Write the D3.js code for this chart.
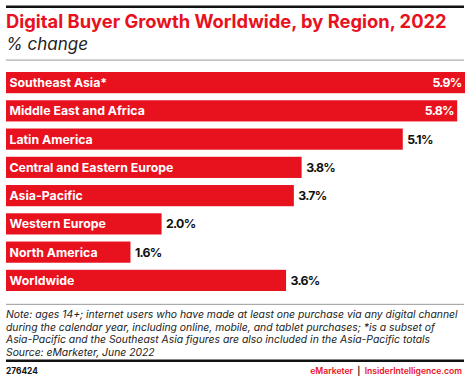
<!DOCTYPE html>
<html><head><meta charset="utf-8">
<script src="https://cdn.jsdelivr.net/npm/d3@7"></script>
<style>
html,body{margin:0;padding:0;background:#fff;}
svg{display:block;font-family:Inter, "Open Sans", sans-serif;}
</style></head>
<body>
<svg id="c" width="470" height="382"></svg>
<script>
const categories = ["Southeast Asia*","Middle East and Africa","Latin America","Central and Eastern Europe","Asia-Pacific","Western Europe","North America","Worldwide"];
const values = [5.9,5.8,5.1,3.8,3.7,2.0,1.6,3.6];
const valueLabels = ["5.9%","5.8%","5.1%","3.8%","3.7%","2.0%","1.6%","3.6%"];
const titleText = "Digital Buyer Growth Worldwide, by Region, 2022";
const subtitleText = "% change";
const noteLines = ["Note: ages 14+; internet users who have made at least one purchase via any digital channel",
"during the calendar year, including online, mobile, and tablet purchases; *is a subset of",
"Asia-Pacific and the Southeast Asia figures are also included in the Asia-Pacific totals",
"Source: eMarketer, June 2022"];
const chartId = "276424";

const red = "#e8111e";
const svg = d3.select("#c");

function fit(sel, target, base) {
  const node = sel.node();
  sel.attr("font-size", base);
  const w = node.getComputedTextLength();
  const fs = base * target / w;
  sel.attr("font-size", fs);
  return fs;
}
function fitSpacing(sel, target) {
  const node = sel.node();
  const w = node.getComputedTextLength();
  const n = sel.text().length;
  return (target - w) / n;
}

svg.append("rect").attr("x",6).attr("y",5.5).attr("width",458).attr("height",2.5).attr("fill","#111");
const title = svg.append("text").attr("x",6).attr("y",27.5).attr("fill",red).attr("font-weight",700).text(titleText);
fit(title, 441, 17);
const sub = svg.append("text").attr("x",6).attr("y",50).attr("fill","#222").attr("font-style","italic").text(subtitleText);
fit(sub, 82, 16);
svg.append("rect").attr("x",6).attr("y",59.5).attr("width",458).attr("height",1.2).attr("fill","#aaa");

const x = d3.scaleLinear().domain([0,5.9]).range([6,465]);
const y = d3.scaleBand().domain(categories).range([72,291]).paddingInner(0.25).paddingOuter(0);

const g = svg.append("g");
g.selectAll("rect.bar").data(values).join("rect").attr("class","bar")
  .attr("x",x(0)).attr("y",(d,i)=>y(categories[i]))
  .attr("width",d=>x(d)-x(0)).attr("height",y.bandwidth()).attr("fill",red);
const cats = g.selectAll("text.cat").data(categories).join("text").attr("class","cat")
  .attr("x",9.5).attr("y",d=>y(d)+y.bandwidth()/2).attr("dy","0.36em")
  .attr("fill","#fff").attr("font-weight",700).text(d=>d);
const catFs = fit(cats.filter((d,i)=>i===3), 164, 13);
cats.attr("font-size",catFs);
const vals = g.selectAll("text.val").data(values).join("text").attr("class","val")
  .attr("x",(d,i)=> i<2 ? x(d)-3.5 : x(d)+4.5)
  .attr("text-anchor",(d,i)=> i<2 ? "end":"start")
  .attr("y",(d,i)=>y(categories[i])+y.bandwidth()/2).attr("dy","0.36em")
  .attr("fill",(d,i)=> i<2 ? "#fff":"#111").attr("font-weight",700)
  .attr("font-size",catFs)
  .text((d,i)=>valueLabels[i]);
const ls = fitSpacing(vals.filter((d,i)=>i===3), 29);
vals.attr("letter-spacing", ls);

svg.append("rect").attr("x",6).attr("y",303.8).attr("width",458).attr("height",1.2).attr("fill","#aaa");
const notes = svg.selectAll("text.note").data(noteLines).join("text").attr("class","note")
  .attr("x",6).attr("y",(d,i)=>318+i*12.6).attr("fill","#222").attr("font-style","italic").text(d=>d);
const noteFs = fit(notes.filter((d,i)=>i===0), 452, 11);
notes.attr("font-size",noteFs);
svg.append("rect").attr("x",6).attr("y",359.5).attr("width",458).attr("height",2.5).attr("fill","#111");
const idT = svg.append("text").attr("x",6).attr("y",374).attr("font-weight",700).attr("fill","#111").text(chartId);
fit(idT, 32, 10);
const foot = svg.append("text").attr("x",462).attr("y",374).attr("text-anchor","end").attr("font-weight",600);
foot.append("tspan").attr("fill",red).text("eMarketer");
foot.append("tspan").attr("fill","#111").text(" \u00a0|\u00a0 ");
foot.append("tspan").attr("fill",red).text("InsiderIntelligence.com");
fit(foot, 152, 10.5);
</script>
</body></html>
